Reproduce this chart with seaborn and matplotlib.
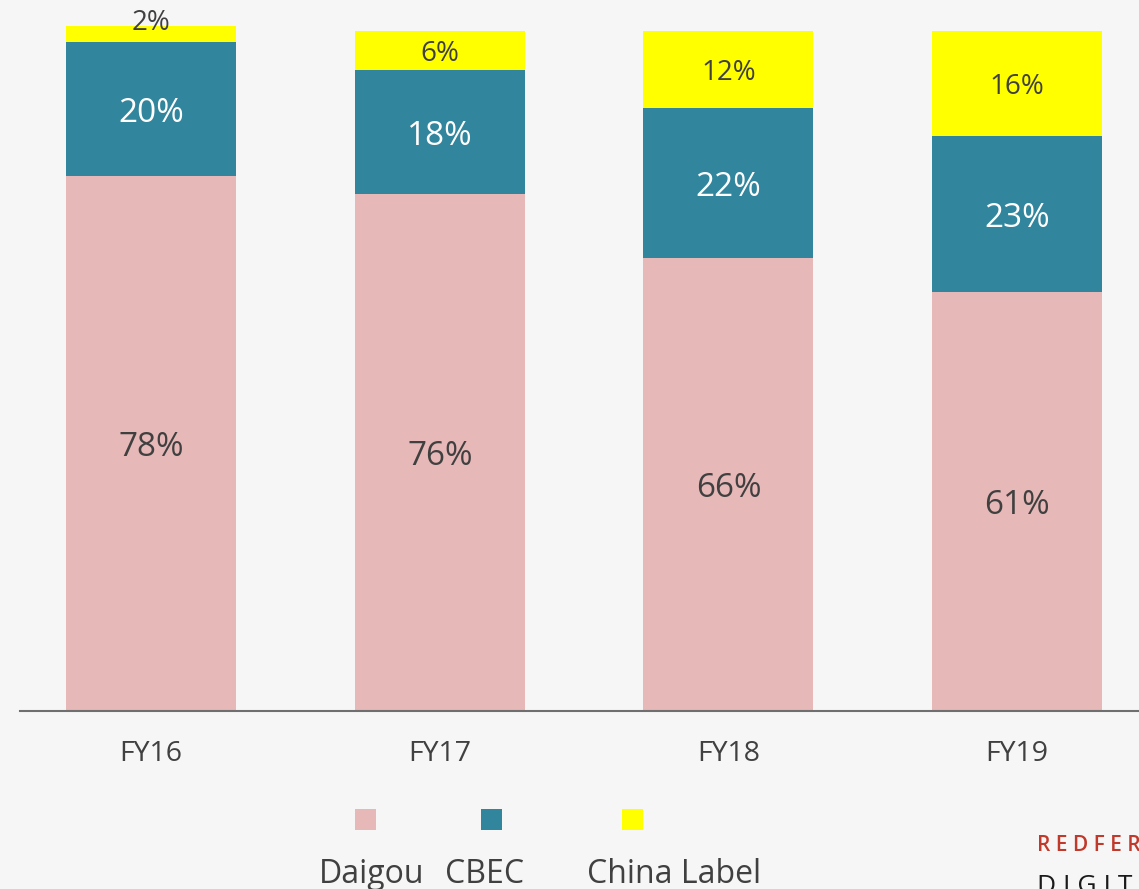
import numpy as np
import pandas as pd
import matplotlib.pyplot as plt
import seaborn as sns
from matplotlib.patches import Rectangle

# Data (share of channel, %)
years = ['FY16', 'FY17', 'FY18', 'FY19']
daigou = [78.0, 75.3, 66.0, 61.1]
cbec = [19.5, 18.1, 21.9, 22.7]
china = [2.3, 5.8, 11.2, 15.3]
daigou_lbl = ['78%', '76%', '66%', '61%']
cbec_lbl = ['20%', '18%', '22%', '23%']
china_lbl = ['2%', '6%', '12%', '16%']
series = ['Daigou', 'CBEC', 'China Label']

# Style
bg = '#f6f6f6'
pink = '#e6b8b7'
teal = '#31859c'
yellow = '#ffff00'
txt = '#404040'

sns.set_theme(style='white')
plt.rcParams['font.family'] = ['Open Sans', 'DejaVu Sans']

W, H = 1139, 889
fig = plt.figure(figsize=(W / 100, H / 100), dpi=100, facecolor=bg)
ax = fig.add_axes([20 / W, 178 / H, 1119 / W, 711 / H])
ax.set_facecolor(bg)

df = pd.DataFrame({'year': years, 'daigou': daigou, 'cbec': cbec, 'china': china})
df['d_c'] = df['daigou'] + df['cbec']
df['total'] = df['d_c'] + df['china']

bw = 0.589
# stacked bars: draw cumulative totals back to front
sns.barplot(data=df, x='year', y='total', color=yellow, saturation=1, width=bw, linewidth=0, ax=ax)
sns.barplot(data=df, x='year', y='d_c', color=teal, saturation=1, width=bw, linewidth=0, ax=ax)
sns.barplot(data=df, x='year', y='daigou', color=pink, saturation=1, width=bw, linewidth=0, ax=ax)

ax.set_xlim(-0.454, 3.422)
ax.set_ylim(0, 103.65)
ax.set_xlabel('')
ax.set_ylabel('')
ax.set_yticks([])
for s in ['top', 'right', 'left']:
    ax.spines[s].set_visible(False)
ax.spines['bottom'].set_color('#6f6f6f')
ax.spines['bottom'].set_linewidth(1.5)
ax.tick_params(axis='x', length=0, pad=21, labelsize=20.5, labelcolor=txt)

# value labels
for i, row in df.iterrows():
    ax.text(i, row['daigou'] / 2, daigou_lbl[i], ha='center', va='center_baseline',
            fontsize=24, color=txt)
    ax.text(i, row['daigou'] + row['cbec'] / 2, cbec_lbl[i], ha='center', va='center_baseline',
            fontsize=24, color='white')
    if row['china'] < 4:
        y = row['total'] + 1.0
    else:
        y = row['d_c'] + row['china'] / 2
    ax.text(i, y, china_lbl[i], ha='center', va='center_baseline', fontsize=20, color=txt)

# legend, laid out like the original slide
sq = [355, 481, 622]
lbl_x = [319, 445, 587]
cols = [pink, teal, yellow]
for x0, lx, c, name in zip(sq, lbl_x, cols, series):
    fig.add_artist(Rectangle((x0 / W, 1 - 830 / H), 21 / W, 21 / H,
                             transform=fig.transFigure, color=c, lw=0))
    fig.text(lx / W, 1 - 883 / H, name, ha='left', va='baseline', fontsize=23, color=txt)

# logo, cut off at the corner as in the source slide
fig.text(1037 / W, 1 - 851 / H, 'R E D F E R N', ha='left', va='baseline',
         fontsize=15, color='#c0392b', fontweight='semibold')
fig.text(1037 / W, 1 - 874 / H, 'D I G I T A L', ha='left', va='top',
         fontsize=19, color='#1a1a1a')

fig.savefig('out.png', dpi=100, facecolor=bg)
